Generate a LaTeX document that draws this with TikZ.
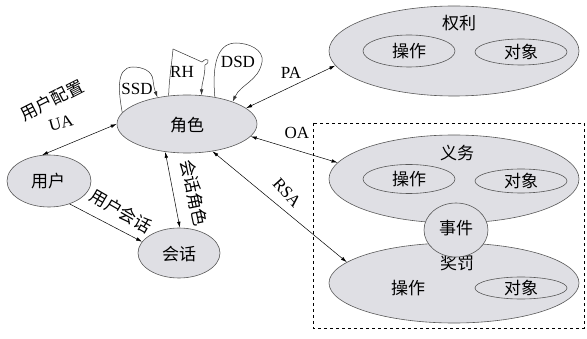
\documentclass[tikz,border=0pt]{standalone}
\usepackage{fontspec}
\setmainfont{Liberation Serif}
\newfontfamily\cjk{Noto Sans CJK SC}
\usetikzlibrary{arrows.meta,shapes.geometric}
\definecolor{ellfill}{RGB}{223,223,228}
\tikzset{
  ell/.style={ellipse, draw=black!65, line width=0.6pt, fill=ellfill, inner sep=0pt},
  inell/.style={ellipse, draw=black!65, line width=0.6pt, fill=ellfill, inner sep=0pt, minimum width=92pt},
  zh/.style={font=\cjk\fontsize{17}{17}\selectfont, inner sep=0pt},
  en/.style={font=\fontsize{17}{17}\selectfont, inner sep=0pt},
  conn/.style={line width=0.5pt, {Latex[length=6pt,width=3.5pt]}-{Latex[length=6pt,width=3.5pt]}},
  oneway/.style={line width=0.5pt, -{Latex[length=6pt,width=3.5pt]}},
  loopline/.style={line width=0.5pt, black!80, -{Latex[length=6pt,width=3.5pt]}}
}
\begin{document}
\begin{tikzpicture}[x=1pt,y=-1pt]
\useasboundingbox (0,0) rectangle (587,339);
% dashed frame
\draw[dashed, line width=0.6pt] (313,123) rectangle (584,328);
% main ellipses
\node[ell, minimum width=140pt, minimum height=58pt] (role) at (187,124) {};
\node[zh] (roletxt) at (187,125) {角色};
\node[ell, minimum width=84pt, minimum height=52pt] (user) at (49,181) {};
\node[zh] (usertxt) at (48,181) {用户};
\node[ell, minimum width=82pt, minimum height=50pt] (sess) at (179,253) {};
\node[zh] (sesstxt) at (179,254) {会话};
% rights
\node[ell, minimum width=250pt, minimum height=90pt] (right) at (454,51) {};
\node[zh] (righttxt) at (459,23) {权利};
\node[inell, minimum height=32pt] (rop) at (409,51) {};
\node[zh] at (409,51) {操作};
\node[inell, minimum height=26pt] (rob) at (521,52) {};
\node[zh] at (521,52) {对象};
% obligations
\node[ell, minimum width=250pt, minimum height=88pt] (oblig) at (454,179) {};
\node[zh] (obltxt) at (457,153) {义务};
\node[inell, minimum height=29pt] (oop) at (409,179) {};
\node[zh] at (409,179) {操作};
\node[inell, minimum height=24pt] (oob) at (521,181) {};
\node[zh] at (521,181) {对象};
% reward / punishment
\node[ell, minimum width=250pt, minimum height=80pt] (reward) at (454,283) {};
\node[zh] (rewtxt) at (457,263) {奖罚};
\node[zh] (rewop) at (408,288) {操作};
\node[inell, minimum height=22pt] (rewob) at (521,288) {};
\node[zh] at (521,288) {对象};
% event
\node[ell, minimum width=64pt, minimum height=54pt] (event) at (456,230) {};
\node[zh] at (456,228) {事件};
% connectors
\draw[conn] (user.105) -- (role.west);
\draw[oneway] (user.312) -- (sess.163);
\draw[conn] (role.232) -- (sess.88);
\draw[conn] (role.313) -- (reward.169);
\draw[conn] (role.349) -- (oblig.172);
\draw[conn] (role.15) -- (right.187);
% self loops
\draw[loopline] (role.170) to[out=100,in=180] (133,67) to[out=0,in=95] (153,80) to[out=-85,in=110] (role.138);
\draw[loopline] (role.123) to[out=88,in=-95] (173,49) -- (202,62) .. controls (208,56) and (211,62) .. (205,65) to[out=-90,in=90] (role.63);
\draw[loopline] (role.44) to[out=95,in=180] (236,43) to[out=0,in=80] (262,62) to[out=-100,in=65] (role.26);
% labels
\node[en] at (137,89) {SSD};
\node[en] at (182,72) {RH};
\node[en] at (238,62) {DSD};
\node[en] at (291,73) {PA};
\node[en] at (297,133) {OA};
\node[en, rotate=-48] at (287,193) {RSA};
\node[zh, rotate=27] at (52,100) {用户配置};
\node[en, rotate=15] at (61,123) {UA};
\node[zh, rotate=-30] at (121,211) {用户会话};
\node[zh, rotate=-78] at (194,193) {会话角色};
\end{tikzpicture}
\end{document}
